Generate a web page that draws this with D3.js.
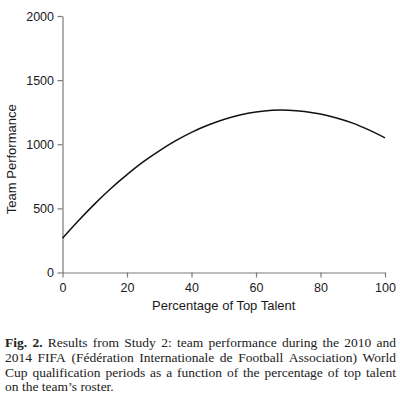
<!DOCTYPE html>
<html>
<head>
<meta charset="utf-8">
<script src="https://cdn.jsdelivr.net/npm/d3@7"></script>
<style>
  html, body { margin: 0; padding: 0; background: #fff; }
  svg { display: block; }
</style>
</head>
<body>
<script>
// ---- data ----
const talentPct = [0, 5, 10, 15, 20, 25, 30, 35, 40, 45, 50, 55, 60, 65, 70, 75, 80, 85, 90, 95, 100];
const performance = [267, 405, 535, 655, 763, 862, 949, 1026, 1093, 1148, 1193, 1228, 1252, 1265, 1266, 1256, 1236, 1205, 1165, 1112, 1050];
const xTicks = [0, 20, 40, 60, 80, 100];
const yTicks = [0, 500, 1000, 1500, 2000];
const xTitle = "Percentage of Top Talent";
const yTitle = "Team Performance";
const captionLines = [
  { bold: "Fig. 2.", text: "Results from Study 2: team performance during the 2010 and", justify: true },
  { bold: "", text: "2014 FIFA (Fédération Internationale de Football Association) World", justify: true },
  { bold: "", text: "Cup qualification periods as a function of the percentage of top talent", justify: true },
  { bold: "", text: "on the team’s roster.", justify: false }
];

const W = 400, H = 394;
const svg = d3.select("body").append("svg").attr("width", W).attr("height", H);

const x = d3.scaleLinear().domain([0, 100]).range([62.5, 385]);
const y = d3.scaleLinear().domain([0, 2000]).range([272.5, 16]);

const axisColor = "#7a7a7a";
const textColor = "#1a1a1a";
const sans = "'Liberation Sans', Arial, sans-serif";

const gx = svg.append("g").attr("transform", `translate(0,${y(0)})`)
  .call(d3.axisBottom(x).tickValues(xTicks).tickFormat(d3.format("d")).tickSizeInner(5).tickSizeOuter(0).tickPadding(5.5));
const gy = svg.append("g").attr("transform", `translate(${x(0)},0)`)
  .call(d3.axisLeft(y).tickValues(yTicks).tickFormat(d3.format("d")).tickSizeInner(5).tickSizeOuter(0).tickPadding(3.5));

[gx, gy].forEach(g => {
  g.select(".domain").attr("stroke", axisColor).attr("stroke-width", 1.2);
  g.selectAll(".tick line").attr("stroke", axisColor).attr("stroke-width", 1.2);
  g.selectAll(".tick text").attr("fill", textColor)
    .style("font-family", sans).style("font-size", "12.5px");
});

// curve
const line = d3.line()
  .x((d, i) => x(talentPct[i]))
  .y(d => y(d))
  .curve(d3.curveCatmullRom);
svg.append("path")
  .datum(performance)
  .attr("d", line)
  .attr("fill", "none")
  .attr("stroke", "#111")
  .attr("stroke-width", 1.5);

// axis titles
svg.append("text")
  .attr("x", (x(0) + x(100)) / 2).attr("y", 310)
  .attr("text-anchor", "middle")
  .attr("fill", textColor)
  .style("font-family", sans).style("font-size", "13px")
  .text(xTitle);

svg.append("text")
  .attr("transform", `translate(15.5,${(y(0) + y(2000)) / 2 + 15}) rotate(-90)`)
  .attr("text-anchor", "middle")
  .attr("fill", textColor)
  .style("font-family", sans).style("font-size", "13px")
  .text(yTitle);

// caption (justified word by word)
const serif = "'Liberation Serif', 'Times New Roman', serif";
const capLeft = 5, capRight = 396, capSize = 13.5;
const baselines = [347, 362, 377, 391];
const cap = svg.append("g").attr("fill", "#222").style("font-family", serif).style("font-size", capSize + "px");

captionLines.forEach((ln, li) => {
  const words = [];
  if (ln.bold) ln.bold.split(" ").forEach(w => words.push({ w, bold: true }));
  ln.text.split(" ").forEach(w => words.push({ w, bold: false }));
  const nodes = words.map(o => cap.append("text")
    .attr("y", baselines[li])
    .style("font-weight", o.bold ? "bold" : "normal")
    .text(o.w));
  const widths = nodes.map(n => n.node().getComputedTextLength());
  const total = d3.sum(widths);
  const normalGap = capSize * 0.25;
  let gap = normalGap;
  if (ln.justify && words.length > 1) gap = (capRight - capLeft - total) / (words.length - 1);
  let cx = capLeft;
  nodes.forEach((n, i) => { n.attr("x", cx); cx += widths[i] + gap; });
});
</script>
</body>
</html>
